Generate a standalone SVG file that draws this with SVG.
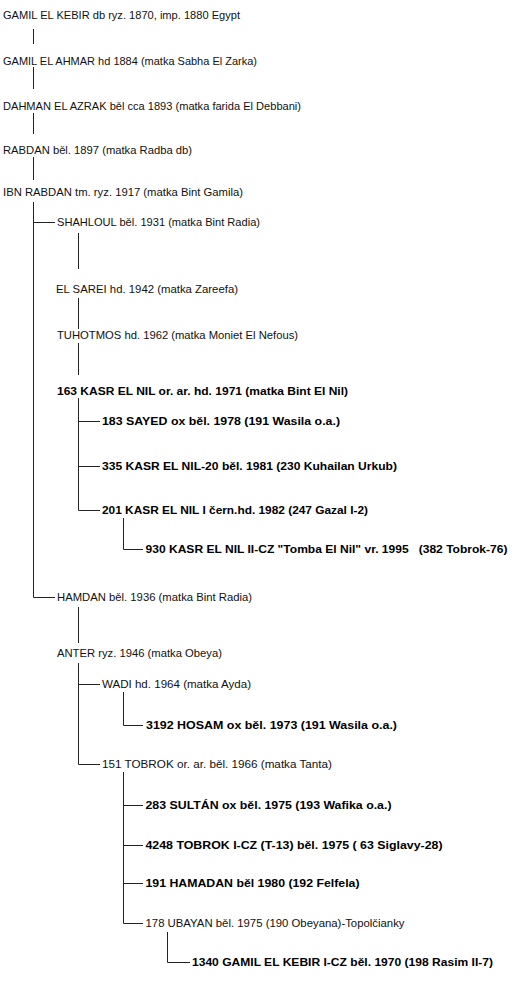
<svg xmlns="http://www.w3.org/2000/svg" width="520" height="982" viewBox="0 0 520 982">
<style>
text{font-family:"Liberation Sans",Arial,sans-serif;font-size:11px;fill:#111;white-space:pre}
.b{font-weight:bold;fill:#000}
.c{fill:none;stroke:#222;stroke-width:1}
</style>
<rect width="520" height="982" fill="#fff"/>
<g id="connectors" class="c">
<path d="M33.5 29V44M33.5 67V89M33.5 113V134M33.5 157V180M33.5 202V597.5H55M33.5 222.5H55"/>
<path d="M78.5 233V269M78.5 298V329M78.5 343V375M78.5 398V510.5H100M78.5 421.5H100M78.5 466.5H100"/>
<path d="M123.5 518V549.5H143"/>
<path d="M78.5 607V643M78.5 663V764.5H100M78.5 684.5H100"/>
<path d="M123.5 692V725.5H143"/>
<path d="M123.5 772V923.5H143M123.5 805.5H143M123.5 845.5H143M123.5 883.5H143"/>
<path d="M167.5 932V962.5H190"/>
</g>
<g id="n1"><text x="3" y="19" textLength="237" lengthAdjust="spacingAndGlyphs">GAMIL EL KEBIR db ryz. 1870, imp. 1880 Egypt</text></g>
<g id="n2"><text x="3" y="65" textLength="254" lengthAdjust="spacingAndGlyphs">GAMIL EL AHMAR hd 1884 (matka Sabha El Zarka)</text></g>
<g id="n3"><text x="3" y="110" textLength="298" lengthAdjust="spacingAndGlyphs">DAHMAN EL AZRAK běl cca 1893 (matka farida El Debbani)</text></g>
<g id="n4"><text x="3" y="154" textLength="189" lengthAdjust="spacingAndGlyphs">RABDAN běl. 1897 (matka Radba db)</text></g>
<g id="n5"><text x="3" y="196" textLength="240" lengthAdjust="spacingAndGlyphs">IBN RABDAN tm. ryz. 1917 (matka Bint Gamila)</text></g>
<g id="n6"><text x="57" y="226" textLength="203" lengthAdjust="spacingAndGlyphs">SHAHLOUL běl. 1931 (matka Bint Radia)</text></g>
<g id="n7"><text x="56" y="293" textLength="182" lengthAdjust="spacingAndGlyphs">EL SAREI hd. 1942 (matka Zareefa)</text></g>
<g id="n8"><text x="57" y="339" textLength="241" lengthAdjust="spacingAndGlyphs">TUHOTMOS hd. 1962 (matka Moniet El Nefous)</text></g>
<g id="n9"><text class="b" x="57" y="395" textLength="291" lengthAdjust="spacingAndGlyphs">163 KASR EL NIL or. ar. hd. 1971 (matka Bint El Nil)</text></g>
<g id="n10"><text class="b" x="102" y="425" textLength="238" lengthAdjust="spacingAndGlyphs">183 SAYED ox běl. 1978 (191 Wasila o.a.)</text></g>
<g id="n11"><text class="b" x="102" y="470" textLength="295" lengthAdjust="spacingAndGlyphs">335 KASR EL NIL-20 běl. 1981 (230 Kuhailan Urkub)</text></g>
<g id="n12"><text class="b" x="102" y="514" textLength="266" lengthAdjust="spacingAndGlyphs">201 KASR EL NIL I čern.hd. 1982 (247 Gazal I-2)</text></g>
<g id="n13"><text class="b" x="145.5" y="553" textLength="362" lengthAdjust="spacingAndGlyphs">930 KASR EL NIL II-CZ "Tomba El Nil" vr. 1995   (382 Tobrok-76)</text></g>
<g id="n14"><text x="57" y="601" textLength="195" lengthAdjust="spacingAndGlyphs">HAMDAN běl. 1936 (matka Bint Radia)</text></g>
<g id="n15"><text x="57" y="657" textLength="165" lengthAdjust="spacingAndGlyphs">ANTER ryz. 1946 (matka Obeya)</text></g>
<g id="n16"><text x="102" y="688" textLength="149" lengthAdjust="spacingAndGlyphs">WADI hd. 1964 (matka Ayda)</text></g>
<g id="n17"><text class="b" x="146" y="729" textLength="251" lengthAdjust="spacingAndGlyphs">3192 HOSAM ox běl. 1973 (191 Wasila o.a.)</text></g>
<g id="n18"><text x="102" y="768" textLength="230" lengthAdjust="spacingAndGlyphs">151 TOBROK or. ar. běl. 1966 (matka Tanta)</text></g>
<g id="n19"><text class="b" x="145.5" y="809" textLength="246" lengthAdjust="spacingAndGlyphs">283 SULTÁN ox běl. 1975 (193 Wafika o.a.)</text></g>
<g id="n20"><text class="b" x="145.5" y="849" textLength="297" lengthAdjust="spacingAndGlyphs">4248 TOBROK I-CZ (T-13) běl. 1975 ( 63 Siglavy-28)</text></g>
<g id="n21"><text class="b" x="145.5" y="887" textLength="214" lengthAdjust="spacingAndGlyphs">191 HAMADAN běl 1980 (192 Felfela)</text></g>
<g id="n22"><text x="145.5" y="927" textLength="259" lengthAdjust="spacingAndGlyphs">178 UBAYAN běl. 1975 (190 Obeyana)-Topolčianky</text></g>
<g id="n23"><text class="b" x="192" y="966" textLength="301" lengthAdjust="spacingAndGlyphs">1340 GAMIL EL KEBIR I-CZ běl. 1970 (198 Rasim II-7)</text></g>
</svg>
